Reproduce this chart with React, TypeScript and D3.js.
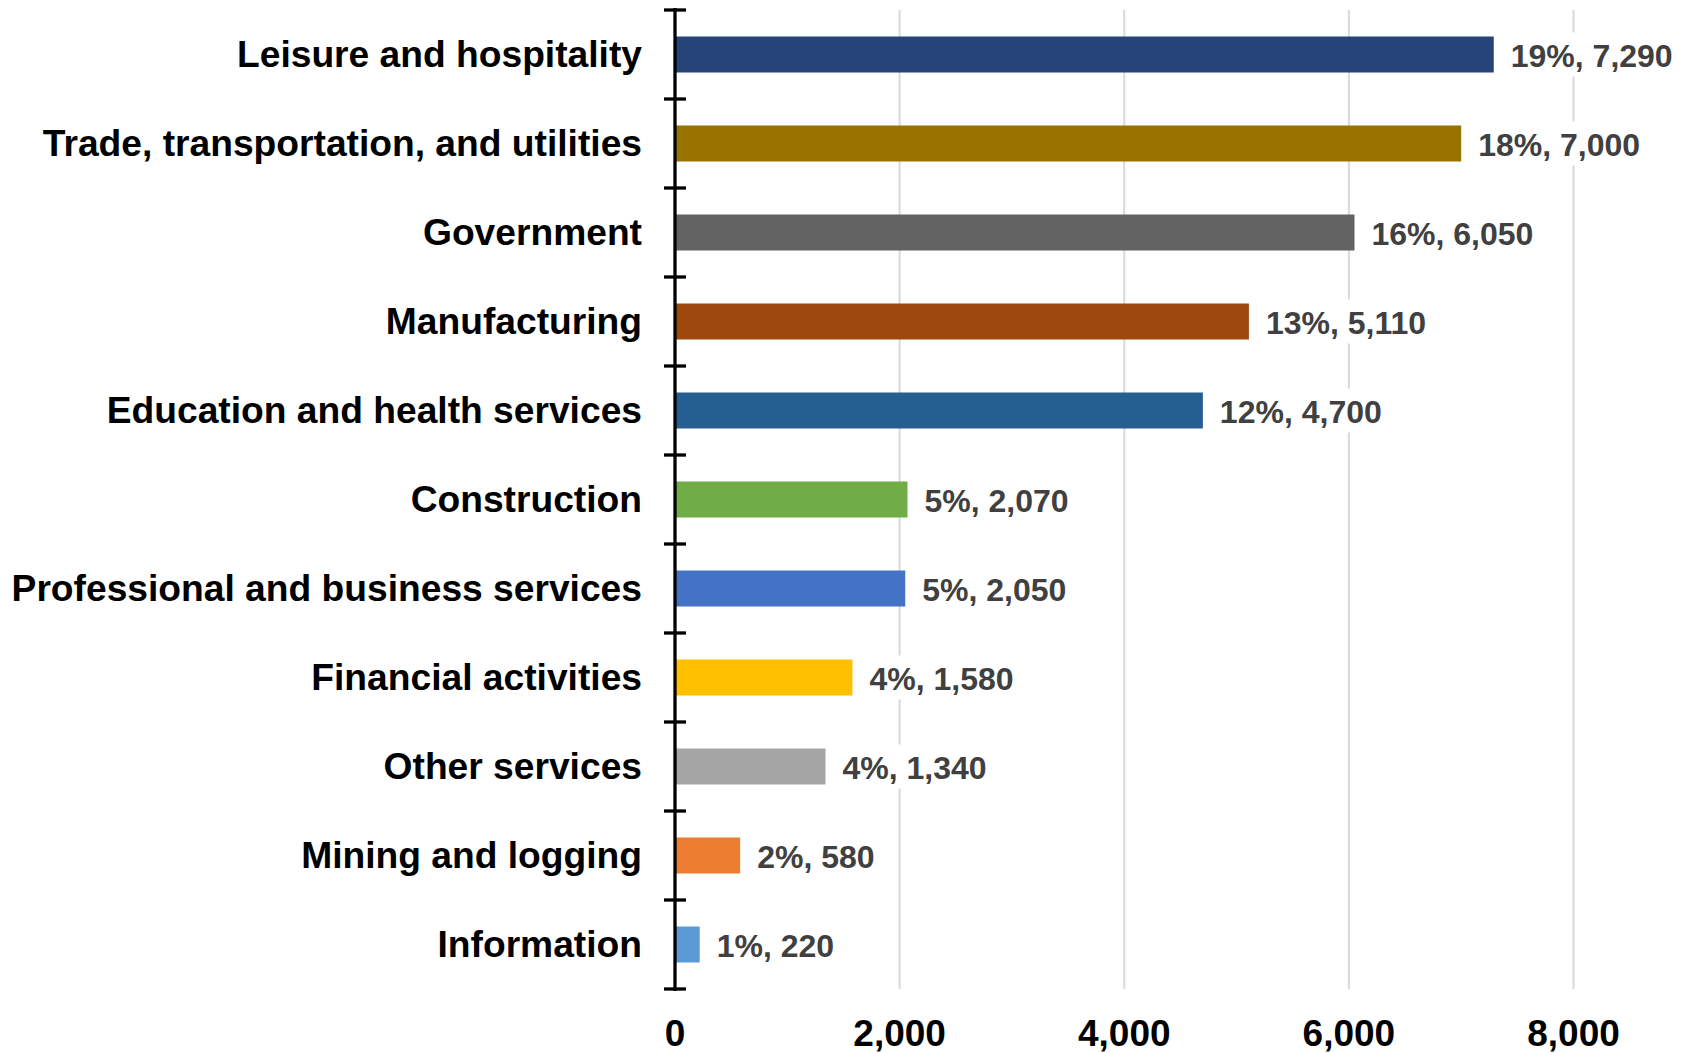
import React from "react";
import * as d3 from "d3";

const categories = [
  "Leisure and hospitality",
  "Trade, transportation, and utilities",
  "Government",
  "Manufacturing",
  "Education and health services",
  "Construction",
  "Professional and business services",
  "Financial activities",
  "Other services",
  "Mining and logging",
  "Information",
];
const values = [7290, 7000, 6050, 5110, 4700, 2070, 2050, 1580, 1340, 580, 220];
const percents = [19, 18, 16, 13, 12, 5, 5, 4, 4, 2, 1];
const colors = [
  "#264478", "#997300", "#636363", "#9e480e", "#255e91", "#70ad47",
  "#4472c4", "#ffc000", "#a5a5a5", "#ed7d31", "#5b9bd5",
];
const xTicks = [0, 2000, 4000, 6000, 8000];

const W = 1684;
const H = 1053;
const FONT = "'Liberation Sans', Arial, sans-serif";

export default function App() {
  const x = d3.scaleLinear().domain([0, 8000]).range([675, 1573.5]);
  const y = d3.scaleBand<string>().domain(categories).range([10, 989]).padding(0);
  const step = y.step();
  const barH = 36;
  const fmt = d3.format(",");
  const boundaries = d3.range(categories.length + 1).map((i) => 10 + i * step);

  return (
    <svg width={W} height={H} style={{ position: "absolute", left: 0, top: 0, background: "#fff" }} fontFamily={FONT}>
      {xTicks.slice(1).map((t) => (
        <line key={t} x1={x(t)} x2={x(t)} y1={10} y2={989} stroke="#d9d9d9" strokeWidth={2} />
      ))}
      {categories.map((c, i) => {
        const yc = (y(c) as number) + step / 2;
        const label = `${percents[i]}%, ${fmt(values[i])}`;
        const lx = x(values[i]) + 17;
        return (
          <g key={c}>
            <rect x={x(0)} y={yc - barH / 2} width={x(values[i]) - x(0)} height={barH} fill={colors[i]} />
            <rect x={lx - 3} y={yc - 22} width={label.length * 16.3 + 8} height={44} fill="#fff" />
            <text x={lx} y={yc + 12} fontSize={32} fontWeight="bold" fill="#404040">{label}</text>
            <text x={642} y={yc + 12.5} textAnchor="end" fontSize={37.2} fontWeight="bold" fill="#000">{c}</text>
          </g>
        );
      })}
      <line x1={x(0)} x2={x(0)} y1={8} y2={991} stroke="#000" strokeWidth={3.3} />
      {boundaries.map((b, i) => (
        <line key={i} x1={664} x2={686} y1={b} y2={b} stroke="#000" strokeWidth={3.3} />
      ))}
      {xTicks.map((t) => (
        <text key={t} x={x(t)} y={1046} textAnchor="middle" fontSize={37} fontWeight="bold" fill="#000">{fmt(t)}</text>
      ))}
    </svg>
  );
}
